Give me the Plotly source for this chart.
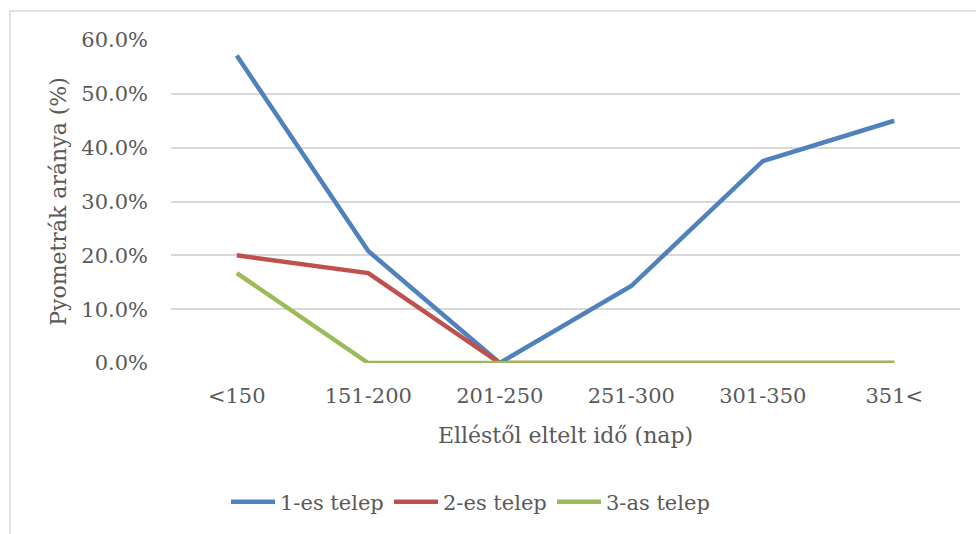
import plotly.graph_objects as go

# Interval since farrowing (days)
categories = ["<150", "151-200", "201-250", "251-300", "301-350", "351<"]

# Share of pyometra cases per farm (fraction)
telep1 = [0.571, 0.208, 0.0, 0.143, 0.375, 0.450]
telep2 = [0.200, 0.167, 0.0, 0.0, 0.0, 0.0]
telep3 = [0.167, 0.0, 0.0, 0.0, 0.0, 0.0]

series_names = ["1-es telep", "2-es telep", "3-as telep"]
series_colors = ["#4F81BD", "#C0504D", "#9BBB59"]

y_ticks = [0.0, 0.1, 0.2, 0.3, 0.4, 0.5, 0.6]

FONT = "DejaVu Serif"
TXT = "#595959"
GRID = "#D9D9D9"

fig = go.Figure()
for name, vals, col in zip(series_names, [telep1, telep2, telep3], series_colors):
    fig.add_trace(go.Scatter(
        x=categories, y=vals, name=name, mode="lines",
        line=dict(color=col, width=4.5),
    ))

W, H = 976, 534
ml, mr, mt, mb = 171, 16, 40, 171
pw, ph = W - ml - mr, H - mt - mb

def px_x(p):
    return (p - ml) / pw

def px_y(p):
    return (H - mb - p) / ph

fig.update_layout(
    width=W, height=H,
    margin=dict(l=ml, r=mr, t=mt, b=mb),
    paper_bgcolor="white", plot_bgcolor="white",
    font=dict(family=FONT, size=21, color=TXT),
    showlegend=True,
    legend=dict(
        orientation="h", x=px_x(226), xanchor="left",
        y=px_y(502), yanchor="middle",
        font=dict(family=FONT, size=21, color=TXT),
        itemwidth=44, tracegroupgap=0,
        entrywidth=104, entrywidthmode="pixels",
    ),
    shapes=[dict(
        type="rect", xref="paper", yref="paper",
        x0=px_x(10), x1=px_x(990), y0=px_y(550), y1=px_y(11),
        line=dict(color=GRID, width=1.5), fillcolor="rgba(0,0,0,0)",
        layer="below",
    )],
)

fig.update_xaxes(
    type="category", range=[-0.5, 5.5],
    showgrid=False, showline=False, zeroline=False,
    ticks="", ticklabelstandoff=18,
    tickfont=dict(family=FONT, size=21, color=TXT),
    title=dict(text="Elléstől eltelt idő (nap)", standoff=20,
               font=dict(family=FONT, size=22, color=TXT)),
)
fig.update_yaxes(
    range=[0, 0.6], tickvals=y_ticks, tickformat=".1%",
    showgrid=True, gridcolor=GRID, gridwidth=1.5,
    zeroline=False, showline=False,
    ticks="", ticklabelstandoff=22,
    tickfont=dict(family=FONT, size=21, color=TXT),
    title=dict(text="Pyometrák aránya (%)", standoff=8,
               font=dict(family=FONT, size=22, color=TXT)),
)

fig.write_html("out.html")
